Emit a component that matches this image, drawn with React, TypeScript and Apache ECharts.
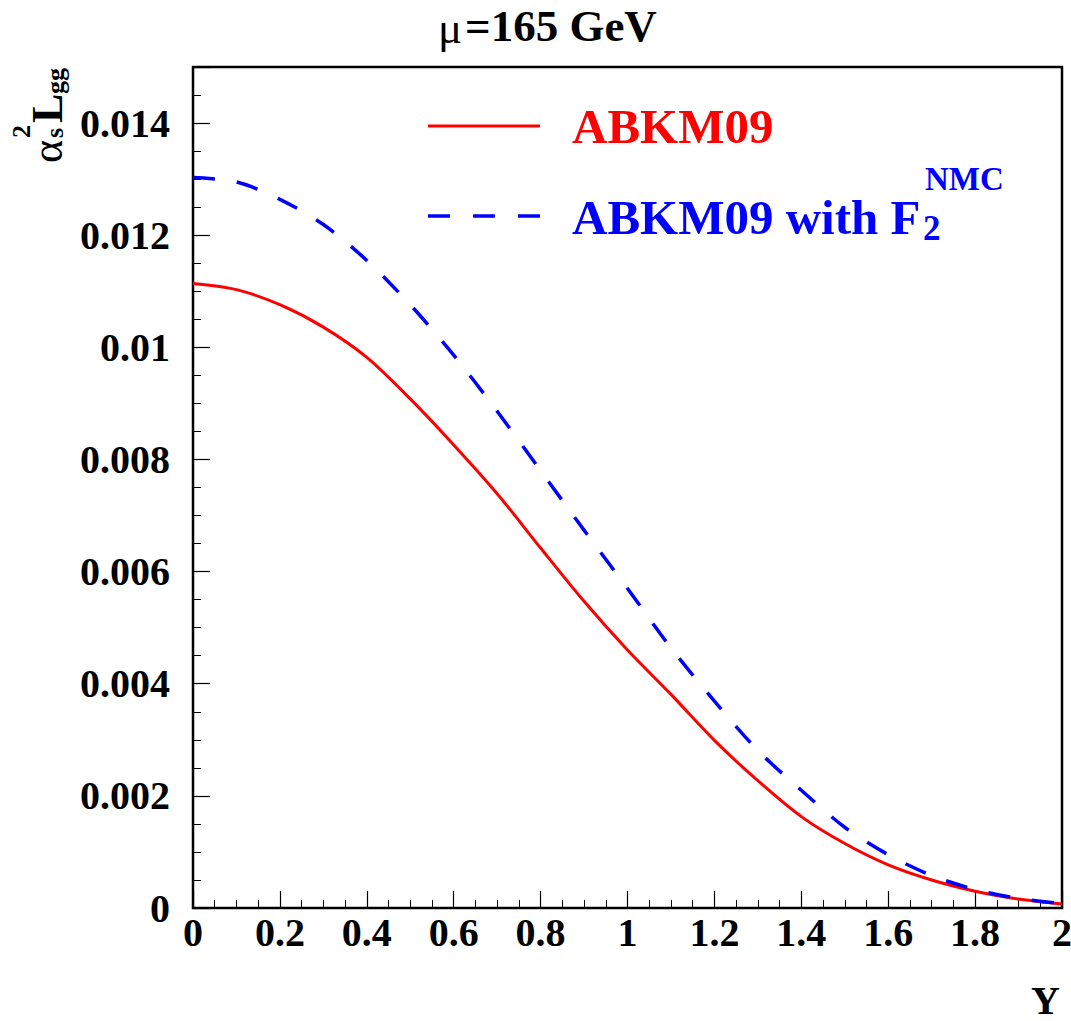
import React, { useEffect, useRef } from 'react';
import * as echarts from 'echarts';

// Rapidity Y
const rapidity = [0, 0.1, 0.2, 0.3, 0.4, 0.5, 0.6, 0.7, 0.8, 0.9, 1.0, 1.1, 1.2, 1.3, 1.4, 1.5, 1.6, 1.7, 1.8, 1.9, 2.0];
// alpha_s^2 L_gg, ABKM09
const abkm09 = [0.01114, 0.01103, 0.01076, 0.01036, 0.00982, 0.00908, 0.00826, 0.00739, 0.00642, 0.00547, 0.0046, 0.00381, 0.00299, 0.00227, 0.00163, 0.00115, 0.00077, 0.0005, 0.0003, 0.00016, 0.00007];
// alpha_s^2 L_gg, ABKM09 with F2 NMC
const abkm09Nmc = [0.01303, 0.01295, 0.01264, 0.01219, 0.01155, 0.01076, 0.00986, 0.00886, 0.0078, 0.00674, 0.0057, 0.00464, 0.00369, 0.00281, 0.0021, 0.00144, 0.00095, 0.00058, 0.00033, 0.00017, 0.00008];

const seriesNames = ['ABKM09', 'ABKM09 with F'];
const titleText = ['μ', '=165 GeV'];

const FONT = '"Liberation Serif", "Times New Roman", serif';

export default function App() {
  const ref = useRef<HTMLDivElement>(null);

  useEffect(() => {
    const chart = echarts.init(ref.current!, null, { renderer: 'svg' });
    const txt = (text: string, x: number, y: number, size: number, opts: any = {}) => ({
      type: 'text',
      x,
      y,
      rotation: opts.rot ?? 0,
      style: {
        text,
        fontSize: size,
        fontFamily: FONT,
        fontWeight: opts.weight ?? 'bold',
        fill: opts.fill ?? '#000',
        align: opts.align ?? 'left',
        verticalAlign: 'middle',
      },
    });
    const R = Math.PI / 2;

    chart.setOption({
      animation: false,
      backgroundColor: '#fff',
      grid: {
        left: 193,
        right: 9,
        top: 67,
        bottom: 113,
        show: true,
        borderColor: '#000',
        borderWidth: 2.5,
        backgroundColor: 'transparent',
        containLabel: false,
        outerBoundsMode: 'none',
      },
      xAxis: {
        type: 'value',
        min: 0,
        max: 2,
        interval: 0.2,
        axisLine: { show: false },
        splitLine: { show: false },
        axisTick: { inside: true, length: 17, lineStyle: { color: '#000', width: 1.2 } },
        minorTick: { show: true, splitNumber: 4, length: 8, lineStyle: { color: '#000', width: 1 } },
        axisLabel: {
          fontFamily: FONT,
          fontWeight: 'bold',
          fontSize: 40,
          color: '#000',
          margin: 4,
          formatter: (v: number) => String(Number(v.toFixed(1))),
        },
      },
      yAxis: [
        {
          type: 'value',
          min: 0,
          max: 0.015,
          interval: 0.002,
          position: 'left',
          axisLine: { show: false },
          splitLine: { show: false },
          axisTick: { inside: true, length: 17, lineStyle: { color: '#000', width: 1.2 } },
          axisLabel: {
            fontFamily: FONT,
            fontWeight: 'bold',
            fontSize: 40,
            color: '#000',
            margin: 23,
            formatter: (v: number) => (v > 0.0146 ? '' : String(Number(v.toFixed(4)))),
          },
        },
        {
          type: 'value',
          min: 0,
          max: 0.015,
          interval: 0.0005,
          position: 'left',
          offset: 0,
          axisLine: { show: false },
          splitLine: { show: false },
          axisTick: { inside: true, length: 8, lineStyle: { color: '#000', width: 1 } },
          axisLabel: { show: false },
        },
      ],
      series: [
        {
          name: seriesNames[0],
          type: 'line',
          yAxisIndex: 0,
          data: rapidity.map((x, i) => [x, abkm09[i]]),
          showSymbol: false,
          smooth: 0.3,
          lineStyle: { color: '#ff0000', width: 3 },
          z: 3,
        },
        {
          name: seriesNames[1],
          type: 'line',
          yAxisIndex: 0,
          data: rapidity.map((x, i) => [x, abkm09Nmc[i]]),
          showSymbol: false,
          smooth: 0.3,
          lineStyle: { color: '#0000ff', width: 3.5, type: [22, 22] },
          z: 4,
        },
      ],
      graphic: [
        // title
        txt(titleText[0], 438, 28, 45, { weight: 'normal' }),
        txt(titleText[1], 465, 26, 45),
        // x axis title
        txt('Y', 1060, 1000, 40, { align: 'right' }),
        // y axis title (rotated, reading upward)
        txt('α', 47, 163, 44, { weight: 'normal', rot: R }),
        txt('2', 21, 138, 26, { rot: R }),
        txt('s', 54, 138, 26, { rot: R }),
        txt('L', 47, 123, 44, { rot: R }),
        txt('gg', 55, 94, 26, { rot: R }),
        // legend
        {
          type: 'line',
          shape: { x1: 428, y1: 126, x2: 540, y2: 126 },
          style: { stroke: '#ff0000', lineWidth: 3 },
        },
        txt(seriesNames[0], 572, 126, 49, { fill: '#ff0000' }),
        {
          type: 'line',
          shape: { x1: 428, y1: 216, x2: 540, y2: 216 },
          style: { stroke: '#0000ff', lineWidth: 3.5, lineDash: [22, 23] },
        },
        txt(seriesNames[1], 572, 217, 49, { fill: '#0000ff' }),
        txt('2', 923, 228, 35, { fill: '#0000ff' }),
        txt('NMC', 925, 179, 33, { fill: '#0000ff' }),
      ],
    });
    return () => chart.dispose();
  }, []);

  return (
    <div
      ref={ref}
      style={{ position: 'fixed', left: 0, top: 0, width: 1071, height: 1021, background: '#fff' }}
    />
  );
}
